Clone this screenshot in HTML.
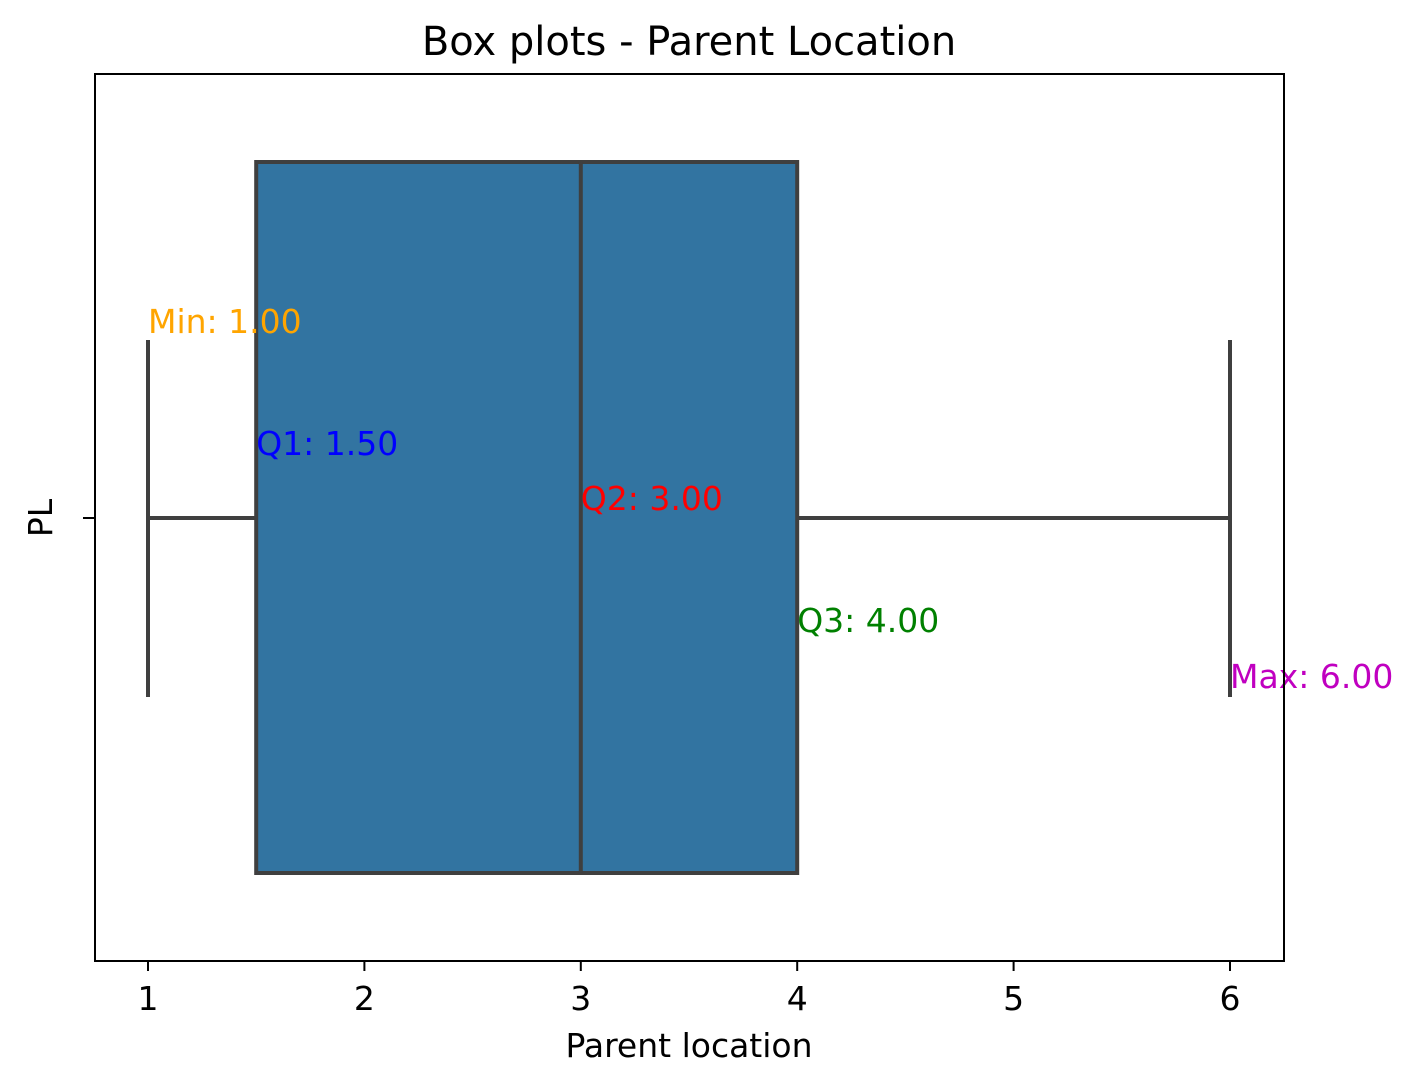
<!DOCTYPE html>
<html><head><meta charset="utf-8"><style>
body{margin:0;background:#fff;}
svg{display:block;font-family:"DejaVu Sans","Liberation Sans",sans-serif;}
</style></head><body>
<svg id="chart" width="1418" height="1088">
<rect x="0" y="0" width="1418" height="1088" fill="#fff"/>
<text x="689" y="55" style="font-size:40px" text-anchor="middle">Box plots - Parent Location</text>
<g id="plot"></g>
<rect x="95" y="74" width="1189" height="887" fill="none" stroke="#000" stroke-width="2"/>
<text x="689" y="1057" style="font-size:33px" text-anchor="middle">Parent location</text>
<text transform="translate(52,518) rotate(-90)" style="font-size:33px" text-anchor="middle">PL</text>
<line x1="83" y1="518" x2="95" y2="518" stroke="#000" stroke-width="2"/>
</svg>
<script>
const xTicks = [1, 2, 3, 4, 5, 6];
const statNames = ["Min", "Q1", "Q2", "Q3", "Max"];
const statValues = [1.0, 1.5, 3.0, 4.0, 6.0];
const statColors = ["orange", "blue", "red", "green", "#c000c0"];
const labelY = [333, 455, 510, 632, 688];

const X0 = 148, PX = 216.4;
function xs(v){ return X0 + (v - 1) * PX; }
const NS = "http://www.w3.org/2000/svg";
const g = document.getElementById('plot');
const svg = document.getElementById('chart');
function mk(tag, attrs, parent){
  const e = document.createElementNS(NS, tag);
  for (const k in attrs) e.setAttribute(k, attrs[k]);
  (parent || g).appendChild(e);
  return e;
}
const [mn, q1, q2, q3, mx] = statValues;
const boxTop = 162, boxBot = 873, cy = 518, capTop = 340, capBot = 697;
const col = "#3f3f3f";

let e = mk('line', {x1: xs(mn), y1: cy, x2: xs(q1), y2: cy, stroke: col, 'stroke-width': 4});


e = mk('line', {x1: xs(q3), y1: cy, x2: xs(mx), y2: cy, stroke: col, 'stroke-width': 4});


e = mk('line', {x1: xs(mn), y1: capTop, x2: xs(mn), y2: capBot, stroke: col, 'stroke-width': 4});


e = mk('line', {x1: xs(mx), y1: capTop, x2: xs(mx), y2: capBot, stroke: col, 'stroke-width': 4});


e = mk('rect', {x: xs(q1), y: boxTop, width: xs(q3) - xs(q1), height: boxBot - boxTop, fill: "#3274a1", stroke: col, 'stroke-width': 4});


e = mk('line', {x1: xs(q2), y1: boxTop, x2: xs(q2), y2: boxBot, stroke: col, 'stroke-width': 4});



statNames.forEach((n, i) => {
  const t = mk('text', {x: xs(statValues[i]), y: labelY[i], fill: statColors[i], style: 'font-size:33px'});
  t.textContent = n + ": " + statValues[i].toFixed(2);
  
  
});

xTicks.forEach(v => {
  const l = mk('line', {x1: xs(v), y1: 961, x2: xs(v), y2: 971, stroke: "#000", 'stroke-width': 2}, svg);
  
  
  const t = mk('text', {x: xs(v), y: 1010, style: 'font-size:33px', 'text-anchor': 'middle'}, svg);
  t.textContent = v;
  
  
});
</script>
</body></html>
